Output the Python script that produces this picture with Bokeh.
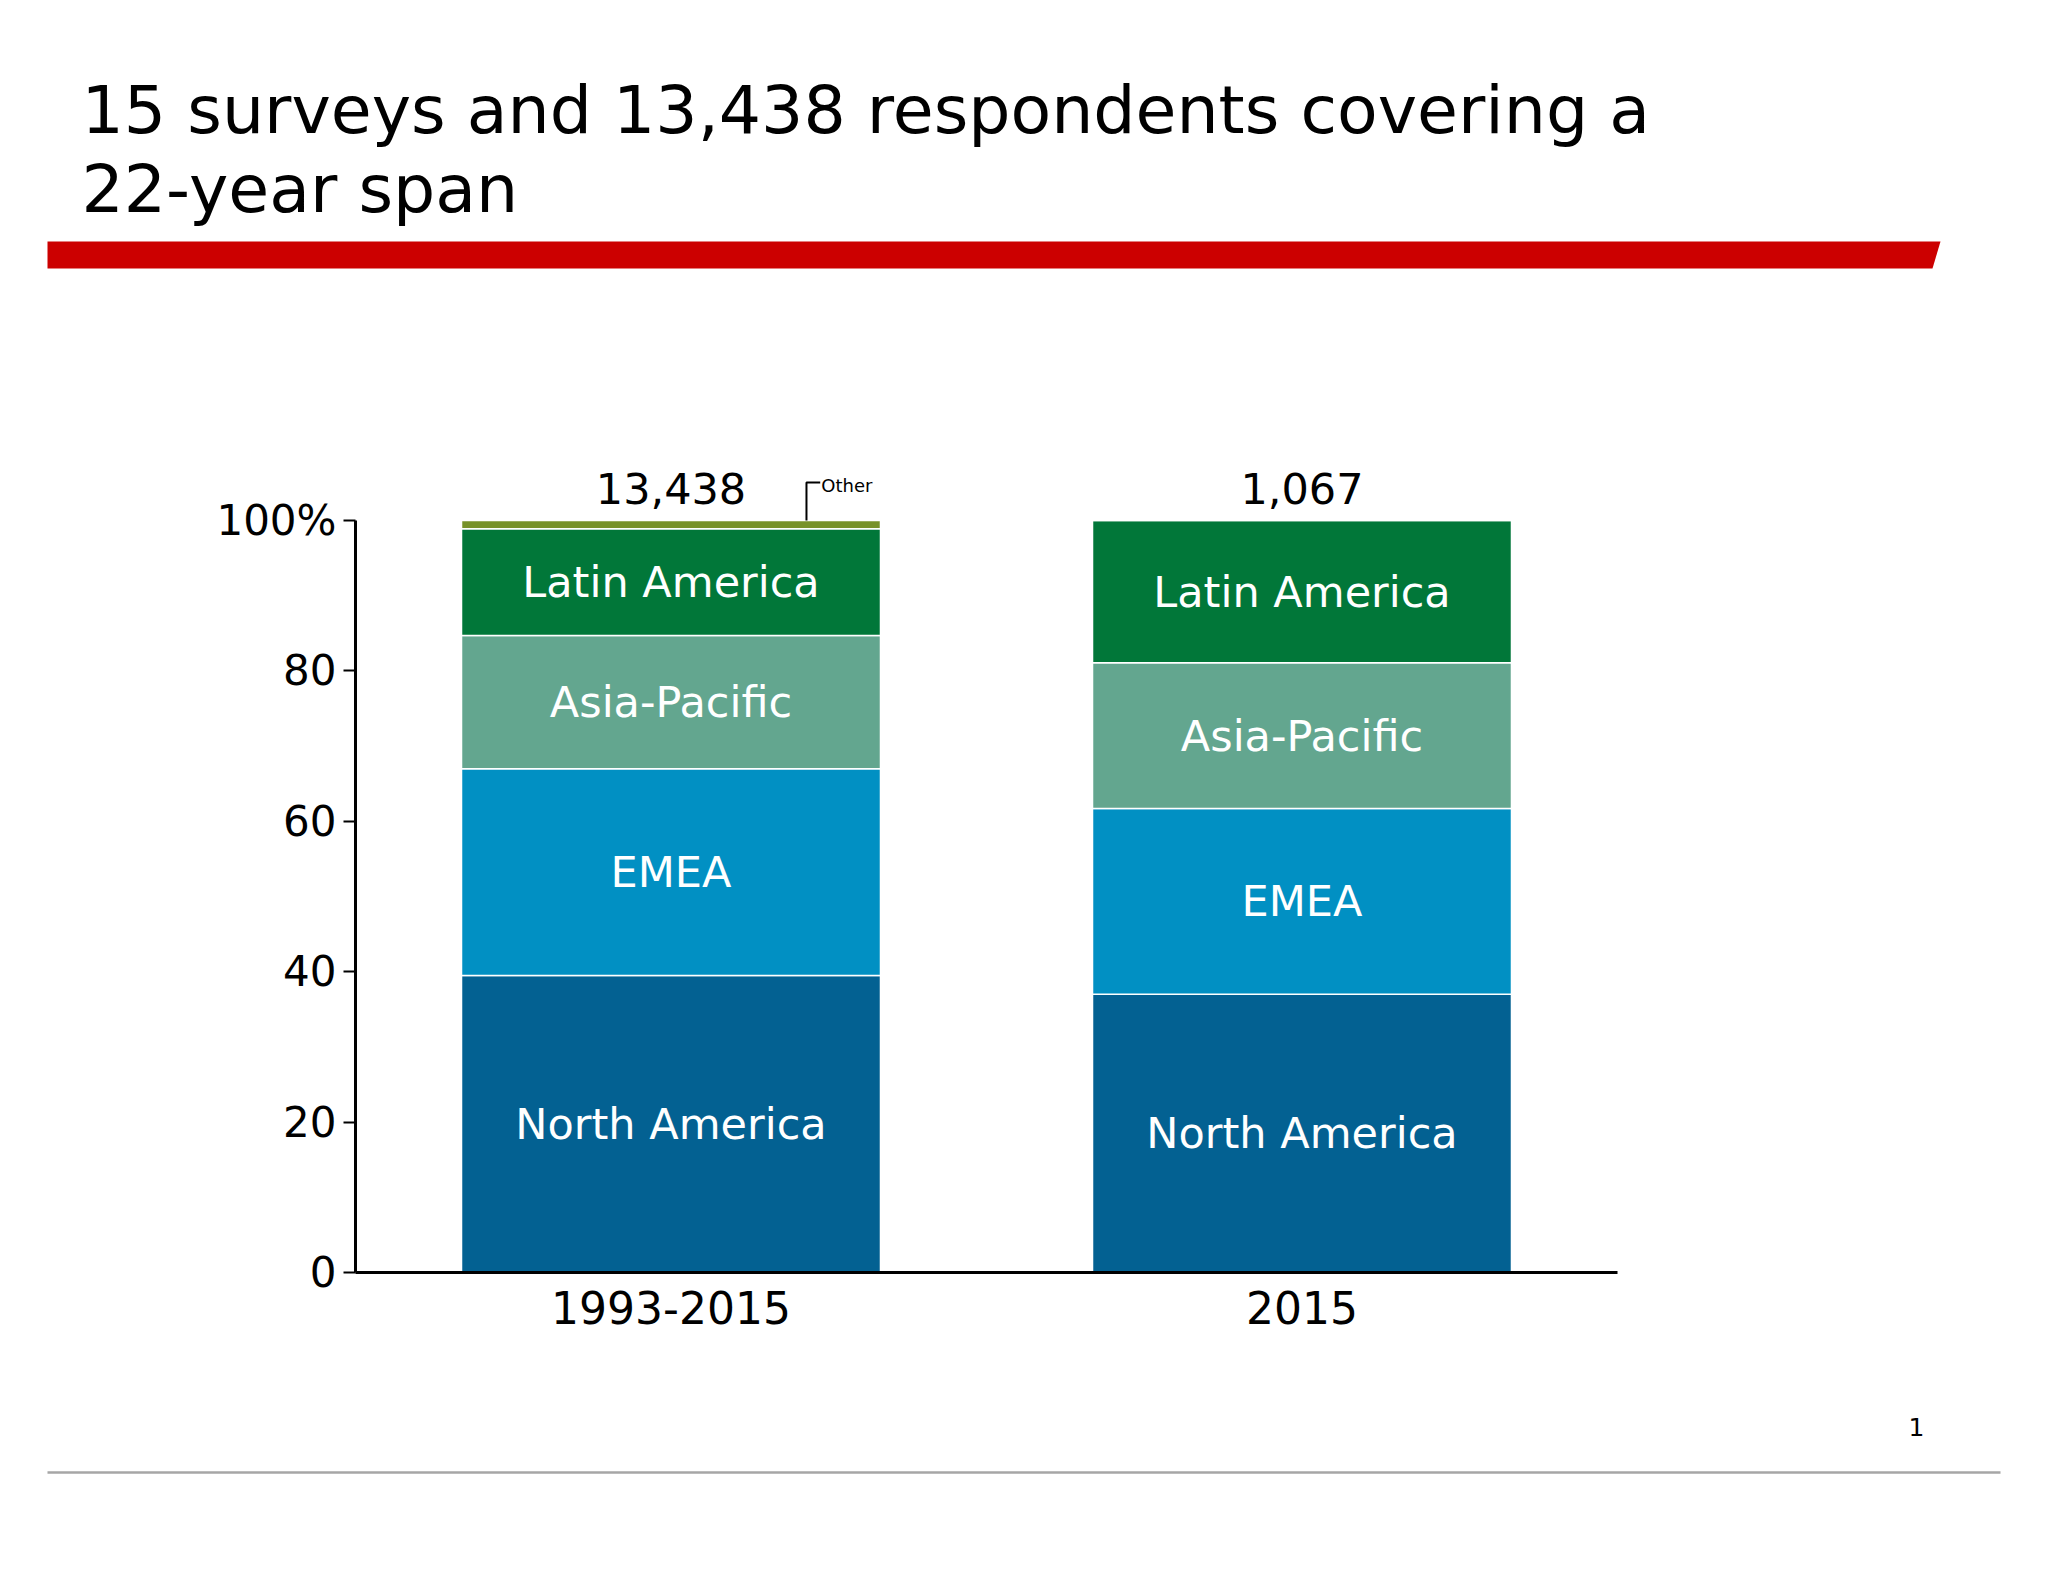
from bokeh.plotting import figure
from bokeh.models import ColumnDataSource, Range1d, FixedTicker, LinearAxis
from bokeh.core.properties import value
from bokeh.embed import file_html
from bokeh.resources import INLINE

# ---------------- data ----------------
title_lines = ["15 surveys and 13,438 respondents covering a", "22-year span"]
periods = ["1993-2015", "2015"]
totals = ["13,438", "1,067"]
regions = ["North America", "EMEA", "Asia-Pacific", "Latin America", "Other"]
north_america = [39.5, 37.0]
emea = [27.5, 24.7]
asia_pacific = [17.7, 19.4]
latin_america = [14.2, 18.9]
other = [1.1, 0.0]
y_ticks = [0, 20, 40, 60, 80, 100]
y_tick_labels = ["0", "20", "40", "60", "80", "100%"]
page_number = "1"

colors = ["#036192", "#0190c3", "#63a68f", "#017739", "#779229"]
FONT = "DejaVu Sans"

# ---------------- layout (page pixels) ----------------
W, H = 2040, 1574
AXIS_X = 355        # where the value axis sits
SLOT = 631          # px per category slot
ZERO_Y = 1272       # where 0% sits
PX_PCT = 7.52       # px per percentage point

x_range = Range1d(-AXIS_X / SLOT, (W - AXIS_X) / SLOT)
y_range = Range1d(-(H - ZERO_Y) / PX_PCT, ZERO_Y / PX_PCT)

p = figure(width=W, height=H, x_range=x_range, y_range=y_range,
           x_axis_type=None, y_axis_type=None, output_backend="svg",
           toolbar_location=None, min_border=0)
p.title.visible = False
p.grid.visible = False
p.outline_line_color = None
p.background_fill_color = "white"
p.border_fill_color = "white"
p.extra_x_ranges = {"px": Range1d(0, W)}
p.extra_y_ranges = {"px": Range1d(H, 0)}

# ---------------- header / footer decorations ----------------
p.text(x=[81, 81], y=[109, 188], text=title_lines, text_font=value(FONT),
       text_font_size="66.5px", text_baseline="middle", text_align="left",
       text_color="#000000", x_range_name="px", y_range_name="px")
p.patch(x=[47, 1940, 1932, 47], y=[241, 241, 268, 268], fill_color="#cc0000",
        line_color=None, x_range_name="px", y_range_name="px")
p.segment(x0=[47], y0=[1472], x1=[2000], y1=[1472], line_color="#a6a6a6",
          line_width=2.5, x_range_name="px", y_range_name="px")
p.text(x=[1916], y=[1426], text=[page_number], text_font=value(FONT),
       text_font_size="25px", text_align="center", text_baseline="middle",
       text_color="#000000", x_range_name="px", y_range_name="px")

# ---------------- chart ----------------
xpos = [i + 0.5 for i in range(len(periods))]
series = [north_america, emea, asia_pacific, latin_america, other]
keys = ["na", "emea", "ap", "la", "other"]
data = dict(x=xpos, period=periods, total=totals)
for k, s in zip(keys, series):
    data[k] = s
data["stack_top"] = [sum(v) for v in zip(*series)]
data["total_y"] = [t + 4.2 for t in data["stack_top"]]
src = ColumnDataSource(data)

p.vbar_stack(keys, x="x", width=0.664, color=colors, source=src,
             line_color="white", line_width=1.5)

# segment labels at segment centres
lx, ly, lt = [], [], []
for i in range(len(periods)):
    cum = 0.0
    for r, s in zip(regions[:4], series[:4]):
        lx.append(xpos[i])
        ly.append(cum + s[i] / 2.0)
        lt.append(r)
        cum += s[i]
p.text(x=lx, y=ly, text=lt, text_font=value(FONT), text_font_size="43px",
       text_align="center", text_baseline="middle", text_color="white")

# totals above bars
p.text(x="x", y="total_y", text="total", source=src, text_font=value(FONT),
       text_font_size="43px", text_align="center", text_baseline="middle",
       text_color="#000000")

# "Other" leader on the first bar
lead_x = xpos[0] + 0.2147
top0 = data["stack_top"][0]
p.line(x=[lead_x, lead_x, lead_x + 0.0218], y=[top0, top0 + 5.05, top0 + 5.05],
       line_color="black", line_width=2)
p.text(x=[lead_x + 0.0235], y=[top0 + 4.65], text=[regions[4]], text_font=value(FONT),
       text_font_size="18px", text_align="left", text_baseline="middle",
       text_color="#000000")

# ---------------- axes ----------------
yax = LinearAxis(fixed_location=0, ticker=FixedTicker(ticks=y_ticks))
yax.major_label_overrides = {t: l for t, l in zip(y_ticks, y_tick_labels)}
yax.bounds = (0, 100)
yax.minor_tick_line_color = None
yax.major_tick_in = 0
yax.major_tick_out = 12
yax.major_tick_line_width = 2
yax.major_tick_line_color = "black"
yax.axis_line_width = 3
yax.axis_line_color = "black"
yax.major_label_text_font = FONT
yax.major_label_text_font_size = "42px"
yax.major_label_text_color = "black"
yax.major_label_standoff = 7
p.add_layout(yax, "left")

xax = LinearAxis(fixed_location=0, ticker=FixedTicker(ticks=xpos))
xax.major_label_overrides = {x: per for x, per in zip(xpos, periods)}
xax.bounds = (0, len(periods))
xax.major_tick_line_color = None
xax.minor_tick_line_color = None
xax.axis_line_width = 3
xax.axis_line_color = "black"
xax.major_label_text_font = FONT
xax.major_label_text_font_size = "44px"
xax.major_label_text_color = "black"
xax.major_label_standoff = 12
p.add_layout(xax, "below")

open("out.html", "w").write(file_html(p, INLINE))
